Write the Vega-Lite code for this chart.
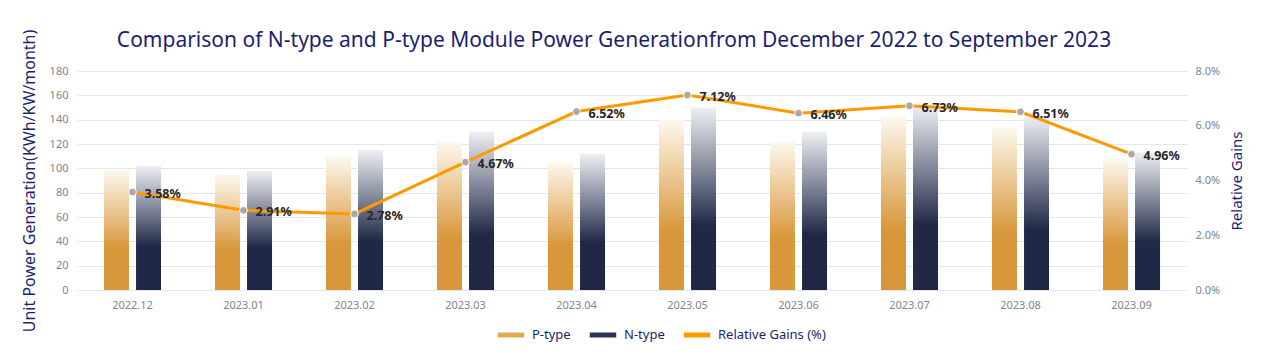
{
  "$schema": "https://vega.github.io/schema/vega-lite/v6.json",
  "width": 1110,
  "height": 219,
  "padding": {"left": 21, "top": 29, "right": 5, "bottom": 5},
  "background": "white",
  "config": {
    "font": "Noto Sans",
    "view": {"stroke": null},
    "axis": {"labelFont": "Noto Sans", "titleFont": "Noto Sans"}
  },
  "title": {
    "text": "Comparison of N-type and P-type Module Power Generationfrom December 2022 to September 2023",
    "fontSize": 21,
    "fontWeight": "normal",
    "color": "#1c1f6e",
    "frame": "group",
    "dx": -18,
    "offset": -22
  },
  "datasets": {
    "bars": [
      {"month": "2022.12", "type": "P-type", "value": 98},
      {"month": "2022.12", "type": "N-type", "value": 102},
      {"month": "2023.01", "type": "P-type", "value": 95},
      {"month": "2023.01", "type": "N-type", "value": 98},
      {"month": "2023.02", "type": "P-type", "value": 110},
      {"month": "2023.02", "type": "N-type", "value": 115},
      {"month": "2023.03", "type": "P-type", "value": 122},
      {"month": "2023.03", "type": "N-type", "value": 130},
      {"month": "2023.04", "type": "P-type", "value": 105},
      {"month": "2023.04", "type": "N-type", "value": 112},
      {"month": "2023.05", "type": "P-type", "value": 140},
      {"month": "2023.05", "type": "N-type", "value": 150},
      {"month": "2023.06", "type": "P-type", "value": 122},
      {"month": "2023.06", "type": "N-type", "value": 130},
      {"month": "2023.07", "type": "P-type", "value": 143},
      {"month": "2023.07", "type": "N-type", "value": 152},
      {"month": "2023.08", "type": "P-type", "value": 134},
      {"month": "2023.08", "type": "N-type", "value": 143},
      {"month": "2023.09", "type": "P-type", "value": 108},
      {"month": "2023.09", "type": "N-type", "value": 113}
    ],
    "gains": [
      {"month": "2022.12", "gain": 0.0358},
      {"month": "2023.01", "gain": 0.0291},
      {"month": "2023.02", "gain": 0.0278},
      {"month": "2023.03", "gain": 0.0467},
      {"month": "2023.04", "gain": 0.0652},
      {"month": "2023.05", "gain": 0.0712},
      {"month": "2023.06", "gain": 0.0646},
      {"month": "2023.07", "gain": 0.0673},
      {"month": "2023.08", "gain": 0.0651},
      {"month": "2023.09", "gain": 0.0496}
    ]
  },
  "resolve": {"scale": {"y": "independent"}, "axis": {"y": "independent"}},
  "layer": [
    {
      "data": {"name": "bars"},
      "encoding": {
        "x": {
          "field": "month",
          "type": "nominal",
          "scale": {"paddingInner": 0.486, "paddingOuter": 0.243},
          "axis": {
            "title": null,
            "labelAngle": 0,
            "labelColor": "#80858f",
            "labelFontSize": 11,
            "labelPadding": 9,
            "domain": false,
            "ticks": false,
            "grid": false
          }
        },
        "xOffset": {
          "field": "type",
          "type": "nominal",
          "sort": ["P-type", "N-type"],
          "scale": {"domain": ["P-type", "N-type"], "paddingInner": 0.22}
        },
        "y": {
          "field": "value",
          "type": "quantitative",
          "scale": {"domain": [0, 180]},
          "axis": {
            "title": "Unit Power Generation(KWh/KW/month)",
            "titleFontSize": 16,
            "titleFontWeight": "normal",
            "titleColor": "#1c1f6e",
            "titlePadding": 12,
            "values": [0, 20, 40, 60, 80, 100, 120, 140, 160, 180],
            "labelColor": "#80858f",
            "labelFontSize": 11,
            "labelPadding": 9,
            "domain": false,
            "ticks": false,
            "gridColor": "#e3e6ec"
          }
        }
      },
      "layer": [
        {
          "transform": [{"filter": "datum.type === 'P-type'"}],
          "mark": {
            "type": "bar",
            "color": {
              "gradient": "linear",
              "x1": 0, "y1": 0, "x2": 0, "y2": 1,
              "stops": [
                {"offset": 0, "color": "#fdf9ef"},
                {"offset": 0.65, "color": "#d9973b"},
                {"offset": 1, "color": "#d9973b"}
              ]
            }
          }
        },
        {
          "transform": [{"filter": "datum.type === 'N-type'"}],
          "mark": {
            "type": "bar",
            "color": {
              "gradient": "linear",
              "x1": 0, "y1": 0, "x2": 0, "y2": 1,
              "stops": [
                {"offset": 0, "color": "#eef0f4"},
                {"offset": 0.65, "color": "#1f2947"},
                {"offset": 1, "color": "#1f2947"}
              ]
            }
          }
        }
      ]
    },
    {
      "data": {"name": "gains"},
      "encoding": {
        "x": {"field": "month", "type": "nominal"},
        "y": {
          "field": "gain",
          "type": "quantitative",
          "scale": {"domain": [0, 0.08]},
          "axis": {
            "orient": "right",
            "title": "Relative Gains",
            "titleFontSize": 15,
            "titleFontWeight": "normal",
            "titleColor": "#1c1f6e",
            "titleAngle": 270,
            "titleBaseline": "top",
            "titlePadding": 10,
            "values": [0, 0.02, 0.04, 0.06, 0.08],
            "format": ".1%",
            "labelColor": "#80858f",
            "labelFontSize": 11,
            "labelPadding": 8,
            "domain": false,
            "ticks": false,
            "grid": false
          }
        }
      },
      "layer": [
        {
          "mark": {"type": "line", "strokeWidth": 3},
          "encoding": {
            "color": {
              "datum": "Relative Gains (%)",
              "scale": {
                "domain": ["P-type", "N-type", "Relative Gains (%)"],
                "range": ["#e3a94f", "#2b3455", "#ff9900"]
              },
              "legend": {
                "title": null,
                "orient": "none",
                "legendX": 418,
                "legendY": 248,
                "direction": "horizontal",
                "symbolType": "stroke",
                "symbolStrokeWidth": 5,
                "symbolSize": 700,
                "labelFontSize": 13,
                "labelColor": "#1c1f6e",
                "labelOffset": 5,
                "columnPadding": 8
              }
            }
          }
        },
        {
          "mark": {"type": "point", "filled": true, "size": 60, "color": "#a8a8a8", "stroke": "white", "strokeWidth": 1, "opacity": 1}
        },
        {
          "mark": {"type": "text", "align": "left", "baseline": "middle", "dx": 12, "dy": 2, "fontSize": 12.5, "fontWeight": "bold", "color": "#262626"},
          "encoding": {
            "text": {"field": "gain", "type": "quantitative", "format": ".2%"}
          }
        }
      ]
    }
  ]
}
